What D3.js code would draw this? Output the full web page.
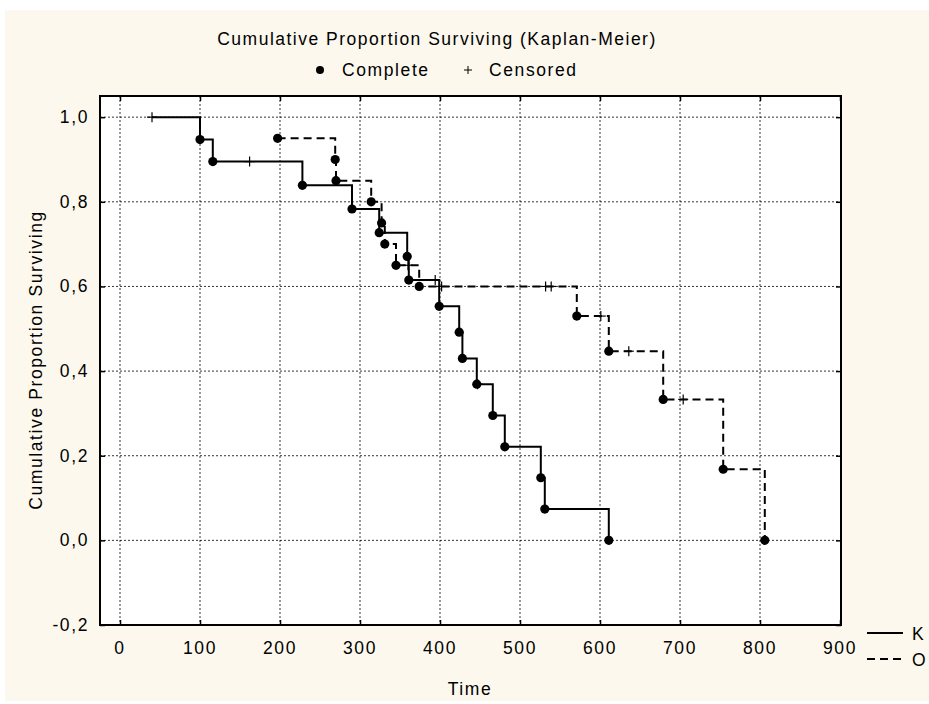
<!DOCTYPE html>
<html><head><meta charset="utf-8">
<script src="https://cdn.jsdelivr.net/npm/d3@7"></script>
<style>
html,body{margin:0;padding:0;background:#fff;}
text{font-family:"Liberation Sans",Arial,sans-serif;fill:#000;}
</style></head>
<body>
<svg id="chart" width="929" height="704"></svg>
<script>
// ---- data ----
const xTicks = [0, 100, 200, 300, 400, 500, 600, 700, 800, 900];
const yTicks = [-0.2, 0, 0.2, 0.4, 0.6, 0.8, 1.0];

// Group K (solid)
const kTime = [40, 100, 116, 162, 228, 290, 324, 359, 361, 394, 399, 424, 428, 446, 447, 466, 481, 526, 531, 611];
const kSurv = [1.0, 0.947, 0.895, 0.895, 0.839, 0.783, 0.727, 0.671, 0.615, 0.615, 0.553, 0.492, 0.430, 0.369, 0.369, 0.295, 0.221, 0.148, 0.074, 0.0];
const kCens = [1, 0, 0, 1, 0, 0, 0, 0, 0, 1, 0, 0, 0, 0, 1, 0, 0, 0, 0, 0];

// Group O (dashed)
const oTime = [197, 269, 270, 314, 327, 331, 345, 360, 374, 402, 532, 539, 571, 601, 611, 636, 679, 704, 754, 806];
const oSurv = [0.95, 0.90, 0.85, 0.80, 0.75, 0.70, 0.65, 0.65, 0.60, 0.60, 0.60, 0.60, 0.53, 0.53, 0.447, 0.447, 0.333, 0.333, 0.168, 0.0];
const oCens = [0, 0, 0, 0, 0, 0, 0, 1, 0, 1, 1, 1, 0, 1, 0, 1, 0, 1, 0, 0];

const seriesNames = ["K", "O"];
const titleText = "Cumulative Proportion Surviving (Kaplan-Meier)";
const yLabel = "Cumulative Proportion Surviving";
const xLabel = "Time";

// ---- layout ----
const svg = d3.select("#chart");
const L = 100, R = 841, T = 96, B = 625;
const x = d3.scaleLinear().domain([-25, 901.25]).range([L, R]);
const y = d3.scaleLinear().domain([-0.2, 1.05]).range([B, T]);
const fmt = v => d3.format(".1f")(v).replace(".", ",").replace("−", "-");

svg.append("rect").attr("x", 5).attr("y", 10).attr("width", 924).attr("height", 691).attr("fill", "#fcf8ee");
svg.append("rect").attr("x", L).attr("y", T).attr("width", R - L).attr("height", B - T).attr("fill", "#fff");

// grid
const grid = svg.append("g").attr("stroke", "#000").attr("stroke-width", 0.8).attr("stroke-dasharray", "2,2");
xTicks.forEach(t => { if (t < 900) grid.append("line").attr("x1", x(t)).attr("x2", x(t)).attr("y1", T).attr("y2", B); });
yTicks.forEach(t => { if (t > -0.2) grid.append("line").attr("x1", L).attr("x2", R).attr("y1", y(t)).attr("y2", y(t)); });

// axes (ticks inward) via d3 axes
const tickStyle = g => { g.select(".domain").remove(); g.selectAll("line").attr("stroke", "#000").attr("stroke-width", 1.5); g.selectAll("text").remove(); };
svg.append("g").attr("transform", `translate(0,${B})`).call(d3.axisTop(x).tickValues(xTicks).tickSize(5)).call(tickStyle);
svg.append("g").attr("transform", `translate(0,${T})`).call(d3.axisBottom(x).tickValues(xTicks).tickSize(5)).call(tickStyle);
svg.append("g").attr("transform", `translate(${L},0)`).call(d3.axisRight(y).tickValues(yTicks).tickSize(5)).call(tickStyle);
svg.append("g").attr("transform", `translate(${R},0)`).call(d3.axisLeft(y).tickValues(yTicks).tickSize(5)).call(tickStyle);

// tick labels
const tickFont = 17.5, ls = "1.6px";
svg.append("g").selectAll("text").data(xTicks).join("text")
  .attr("x", d => x(d)).attr("y", 654).attr("text-anchor", "middle")
  .style("font-size", tickFont + "px").style("letter-spacing", ls).text(d => d);
svg.append("g").selectAll("text").data(yTicks).join("text")
  .attr("x", 89).attr("y", d => y(d) + 6).attr("text-anchor", "end")
  .style("font-size", tickFont + "px").style("letter-spacing", ls).text(d => fmt(d));

// frame
svg.append("rect").attr("x", L).attr("y", T).attr("width", R - L).attr("height", B - T)
  .attr("fill", "none").attr("stroke", "#000").attr("stroke-width", 2);

// curves
function drawSeries(times, surv, cens, dash) {
  const pts = times.map((t, i) => ({t, s: surv[i], c: cens[i]}));
  const line = d3.line().x(d => x(d.t)).y(d => y(d.s)).curve(d3.curveStepAfter);
  svg.append("path").datum(pts).attr("d", line).attr("fill", "none")
    .attr("stroke", "#000").attr("stroke-width", 2).attr("stroke-dasharray", dash);
  svg.append("g").selectAll("circle").data(pts.filter(d => !d.c)).join("circle")
    .attr("cx", d => x(d.t)).attr("cy", d => y(d.s)).attr("r", 4.6).attr("fill", "#000");
  const cg = svg.append("g").attr("stroke", "#000").attr("stroke-width", 1.2);
  pts.filter(d => d.c).forEach(d => {
    cg.append("line").attr("x1", x(d.t) - 5).attr("x2", x(d.t) + 5).attr("y1", y(d.s)).attr("y2", y(d.s));
    cg.append("line").attr("x1", x(d.t)).attr("x2", x(d.t)).attr("y1", y(d.s) - 5).attr("y2", y(d.s) + 5);
  });
}
drawSeries(kTime, kSurv, kCens, null);
drawSeries(oTime, oSurv, oCens, "8,5");

// titles
svg.append("text").attr("x", 437).attr("y", 45).attr("text-anchor", "middle")
  .style("font-size", "17.5px").style("letter-spacing", "1.5px").text(titleText);
svg.append("circle").attr("cx", 320).attr("cy", 70).attr("r", 4).attr("fill", "#000");
svg.append("text").attr("x", 342).attr("y", 76).style("font-size", "17.5px").style("letter-spacing", "1.6px").text("Complete");
svg.append("line").attr("x1", 464).attr("x2", 472).attr("y1", 70).attr("y2", 70).attr("stroke", "#000").attr("stroke-width", 1);
svg.append("line").attr("x1", 468).attr("x2", 468).attr("y1", 66).attr("y2", 74).attr("stroke", "#000").attr("stroke-width", 1);
svg.append("text").attr("x", 489).attr("y", 76).style("font-size", "17.5px").style("letter-spacing", "1.6px").text("Censored");

svg.append("text").attr("transform", "translate(42,360) rotate(-90)").attr("text-anchor", "middle")
  .style("font-size", "17.5px").style("letter-spacing", "1.6px").text(yLabel);
svg.append("text").attr("x", 470).attr("y", 695).attr("text-anchor", "middle")
  .style("font-size", "17.5px").style("letter-spacing", "1.6px").text(xLabel);

// series legend (bottom right)
const lg = svg.append("g");
seriesNames.forEach((n, i) => {
  const yy = 633 + i * 26;
  lg.append("line").attr("x1", 867).attr("x2", 903).attr("y1", yy).attr("y2", yy)
    .attr("stroke", "#000").attr("stroke-width", 2).attr("stroke-dasharray", i ? "8,5" : null);
  lg.append("text").attr("x", 912).attr("y", yy + 7).style("font-size", "17.5px").text(n);
});
</script>
</body></html>
